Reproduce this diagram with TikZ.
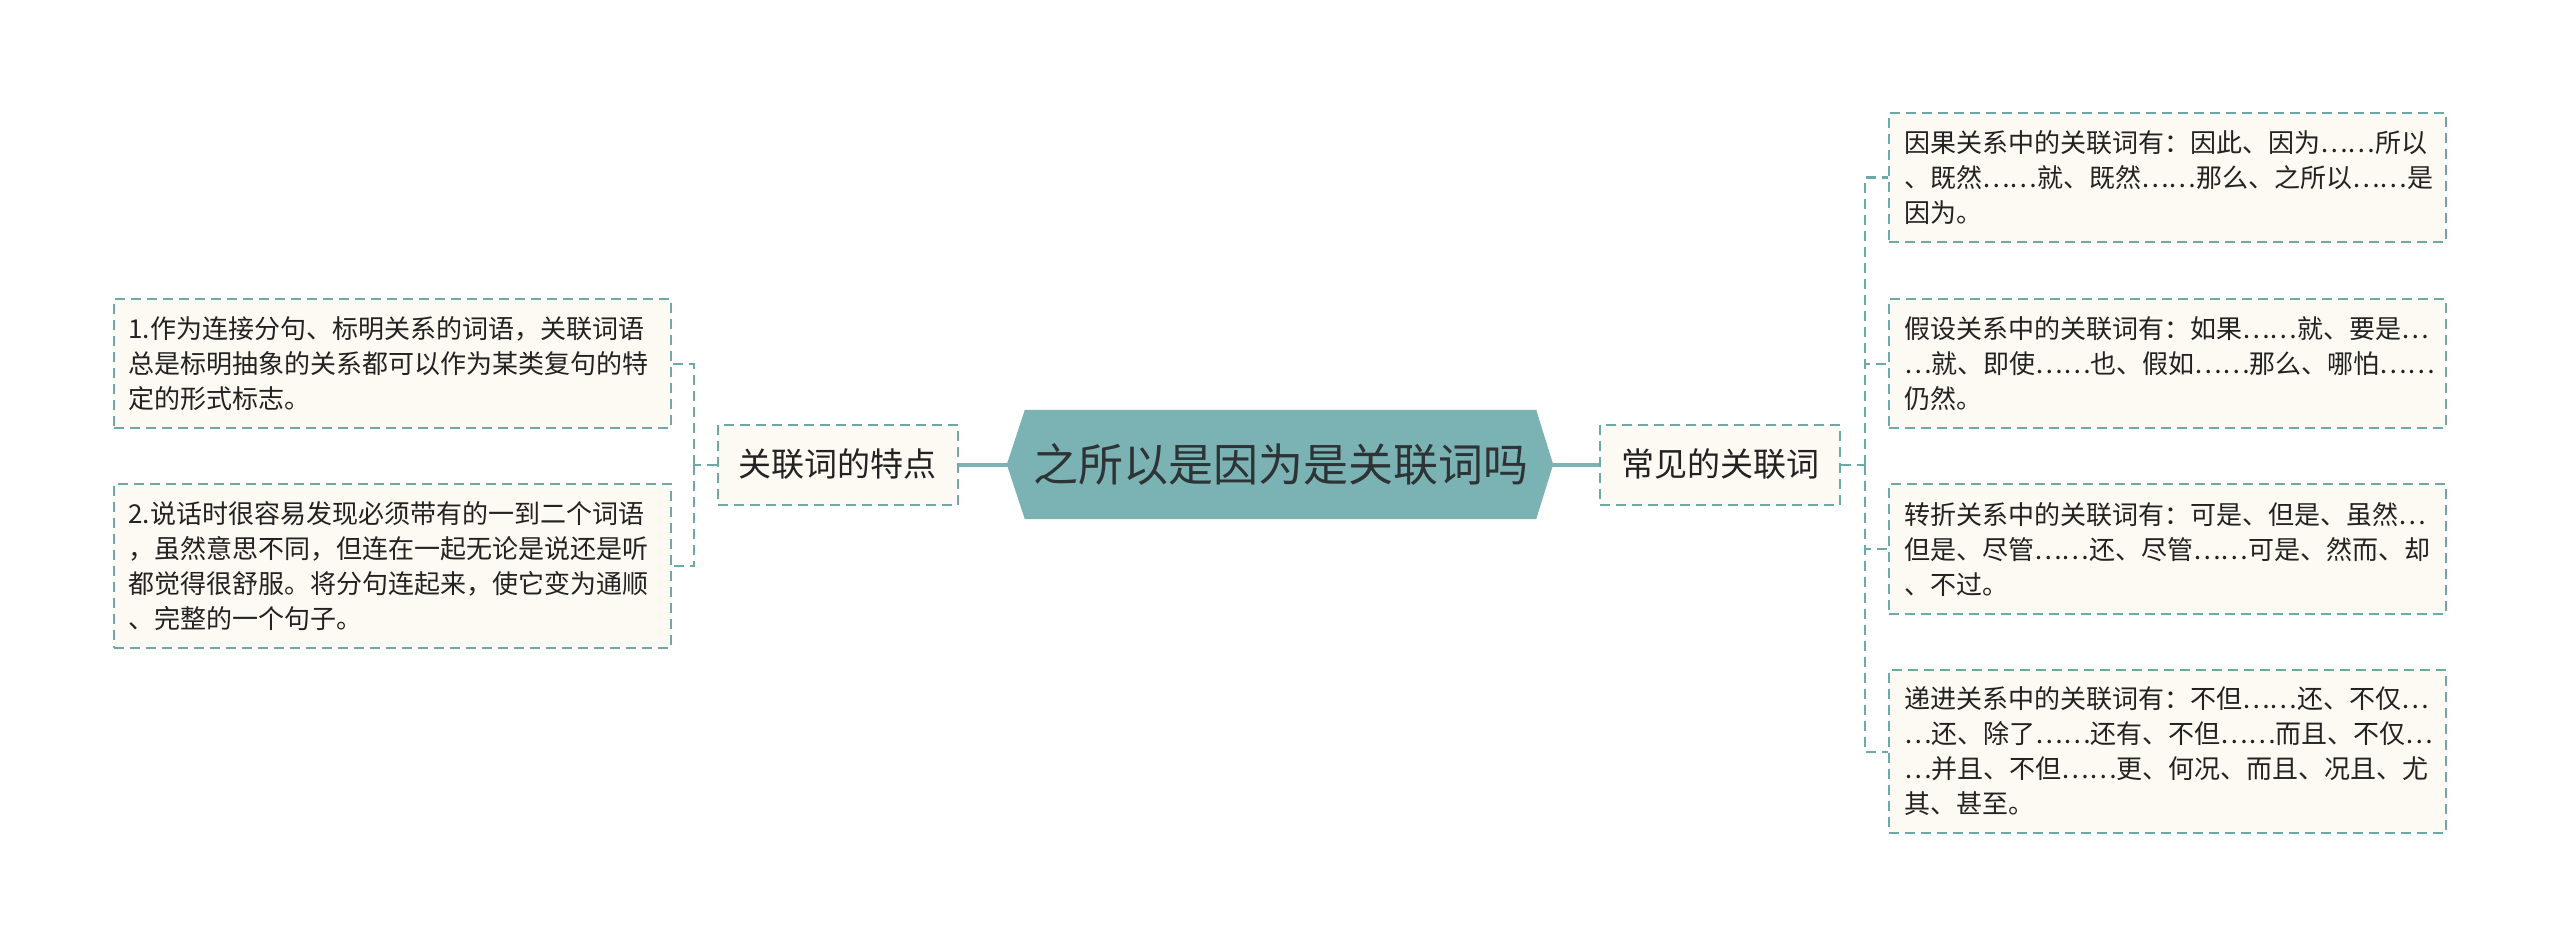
\documentclass[tikz,border=0pt]{standalone}
\usepackage{fontspec}
\newfontfamily\cjk{Noto Sans CJK SC}
\usetikzlibrary{backgrounds,calc}
\definecolor{hexfill}{HTML}{7BB3B5}
\definecolor{edgecol}{HTML}{6FA8A9}
\definecolor{cream}{HTML}{FCFAF2}
\definecolor{ink}{HTML}{222222}
\definecolor{rootink}{HTML}{2E3436}
\begin{document}
\begin{tikzpicture}[x=1pt,y=1pt,
 leaf/.style={draw=edgecol, line width=2pt, dash pattern=on 10pt off 6pt, fill=cream,
   font=\cjk\fontsize{26}{35}\selectfont, text=ink, align=left, text width=527pt,
   inner xsep=15pt, inner ysep=0pt, anchor=center},
 sub/.style={draw=edgecol, line width=2pt, dash pattern=on 10pt off 6pt, fill=cream,
   font=\cjk\fontsize{33}{40}\selectfont, text=ink, minimum width=240pt,
   minimum height=80pt, inner sep=0pt},
 link/.style={draw=edgecol, line width=2pt, dash pattern=on 10pt off 6pt},
 trunk/.style={draw=hexfill, line width=4pt}]
\useasboundingbox (0,0) rectangle (2560,-947);

% root
\node[font=\cjk\fontsize{45}{54}\selectfont, text=rootink, minimum width=511pt,
  minimum height=109pt, inner sep=0pt] (root) at (1280.5,-464.5) {之所以是因为是关联词吗};

% level 1
\node[sub] (t1) at (837.5,-464.5) {关联词的特点};
\node[sub] (t2) at (1720,-464.5) {常见的关联词};

% left leaves
\node[leaf, minimum height=129pt] (L1) at (392,-363.5) {1.作为连接分句、标明关系的词语，关联词语\\总是标明抽象的关系都可以作为某类复句的特\\定的形式标志。};
\node[leaf, minimum height=164pt] (L2) at (392,-566) {2.说话时很容易发现必须带有的一到二个词语\\，虽然意思不同，但连在一起无论是说还是听\\都觉得很舒服。将分句连起来，使它变为通顺\\、完整的一个句子。};

% right leaves
\node[leaf, minimum height=129pt] (R1) at (2167.5,-177.5) {因果关系中的关联词有：因此、因为……所以\\、既然……就、既然……那么、之所以……是\\因为。};
\node[leaf, minimum height=129pt] (R2) at (2167.5,-363.5) {假设关系中的关联词有：如果……就、要是…\\…就、即使……也、假如……那么、哪怕……\\仍然。};
\node[leaf, minimum height=130pt] (R3) at (2167.5,-549) {转折关系中的关联词有：可是、但是、虽然…\\但是、尽管……还、尽管……可是、然而、却\\、不过。};
\node[leaf, minimum height=163pt] (R4) at (2167.5,-751.5) {递进关系中的关联词有：不但……还、不仅…\\…还、除了……还有、不但……而且、不仅…\\…并且、不但……更、何况、而且、况且、尤\\其、甚至。};

\begin{scope}[on background layer]
  \draw[trunk] (t1.east) -- ($(root.west)+(-10,0)$);
  \draw[trunk] (t2.west) -- ($(root.east)+(10,0)$);
  \fill[hexfill] (root.north west) -- (root.north east) -- ($(root.east)+(17,0)$)
    -- (root.south east) -- (root.south west) -- ($(root.west)+(-18,0)$) -- cycle;
  \coordinate (lj) at (694,-464.5);
  \draw[link] (t1.west) -- (lj);
  \draw[link] (lj) |- (L1.east);
  \draw[link] (lj) |- (L2.east);
  \coordinate (rj) at (1865,-464.5);
  \draw[link] (t2.east) -- (rj);
  \draw[link] (rj) |- (R1.east -| R1.west);
  \draw[link] (rj) |- (R2.west);
  \draw[link] (rj) |- (R3.west);
  \draw[link] (rj) |- (R4.west);
\end{scope}
\end{tikzpicture}
\end{document}
